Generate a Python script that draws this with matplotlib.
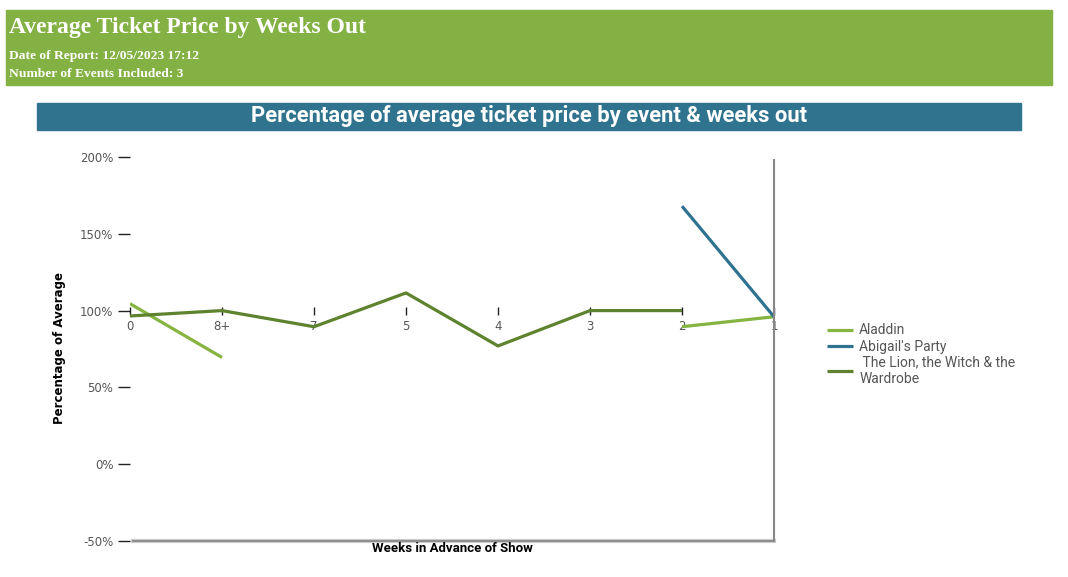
import numpy as np
import matplotlib.pyplot as plt
from matplotlib.patches import Rectangle

# categories along the x axis (weeks out)
weeks = ['0', '8+', '7', '5', '4', '3', '2', '1']

# percentage of average ticket price per event (nan = no data)
nan = np.nan
aladdin = [104.5, 69.5, nan, nan, nan, nan, 89.5, 96.0]
abigail = [nan, nan, nan, nan, nan, nan, 168.0, 96.0]
lion = [96.5, 100.0, 89.5, 111.5, 77.0, 100.0, 100.0, nan]

series_names = ['Aladdin', "Abigail's Party", ' The Lion, the Witch & the\nWardrobe']
series_colors = ['#86b441', '#2e7290', '#5e822e']

yticks = [-50, 0, 50, 100, 150, 200]

W, H = 1068, 577
fig = plt.figure(figsize=(W / 100, H / 100), dpi=100)

# header band
fig.patches.append(Rectangle((6 / W, 1 - 85 / H), 1046 / W, 75 / H,
                             transform=fig.transFigure, color='#84b143', zorder=0))
fig.text(9 / W, 1 - 28 / H, 'Average Ticket Price by Weeks Out', color='white',
         family='Liberation Serif', weight='bold', fontsize=17, va='center')
fig.text(9 / W, 1 - 56 / H, 'Date of Report: 12/05/2023 17:12', color='white',
         family='Liberation Serif', weight='bold', fontsize=9.7, va='center')
fig.text(9 / W, 1 - 74 / H, 'Number of Events Included: 3', color='white',
         family='Liberation Serif', weight='bold', fontsize=9.7, va='center')

# chart title band
fig.patches.append(Rectangle((37 / W, 1 - 130 / H), 984 / W, 27 / H,
                             transform=fig.transFigure, color='#2f738f', zorder=0))
fig.text(529 / W, 1 - 116 / H, 'Percentage of average ticket price by event & weeks out',
         color='white', family='Roboto', weight='bold', fontsize=15.8,
         ha='center', va='center')

# plot area: x 130..774 px, y 157..541 px
ax = fig.add_axes([130 / W, 1 - 541 / H, 644 / W, 384 / H])
x = np.arange(len(weeks))
for vals, name, col in zip([aladdin, abigail, lion], series_names, series_colors):
    ax.plot(x, vals, color=col, lw=2.3, label=name, solid_capstyle='butt')

ax.set_xlim(0, len(weeks) - 1)
ax.set_ylim(-50, 200)

ax.spines['top'].set_visible(False)
ax.spines['left'].set_visible(False)
ax.spines['right'].set_color('#888888')
ax.spines['right'].set_linewidth(1.5)
ax.spines['right'].set_bounds(-50, 198)
ax.spines['bottom'].set_position(('data', 100))
ax.spines['bottom'].set_visible(False)

# bottom line with soft shadow
ax.axhline(-50, xmin=0.005, color='#cccccc', lw=3, clip_on=False, zorder=1)
ax.axhline(-50, xmin=0.005, color='#888888', lw=1.3, clip_on=False, zorder=2)

ax.set_yticks(yticks)
ax.set_yticklabels([f'{v}%' for v in yticks])
ax.tick_params(axis='y', length=9, width=1, color='#222222', pad=3,
               labelsize=8.5, labelcolor='#555555')
ax.set_xticks(x)
ax.set_xticklabels(weeks)
ax.tick_params(axis='x', direction='inout', length=6, width=1, color='#222222',
               pad=4, labelsize=8.5, labelcolor='#555555')
for lab in ax.get_xticklabels() + ax.get_yticklabels():
    lab.set_family('DejaVu Sans')

fig.text(60 / W, 1 - 348 / H, 'Percentage of Average', rotation=90, family='DejaVu Sans',
         weight='bold', fontsize=8.5, ha='center', va='center')
fig.text(452 / W, 1 - 549 / H, 'Weeks in Advance of Show', family='Roboto',
         weight='bold', fontsize=9.5, ha='center', va='center')

leg = fig.legend(loc='upper left', bbox_to_anchor=(814 / W, 1 - 311 / H),
                 frameon=False, handlelength=1.9, handletextpad=0.45,
                 labelspacing=0.15, prop={'family': 'Roboto', 'size': 10})
for t in leg.get_texts():
    t.set_color('#555555')

fig.savefig('out.png', dpi=100)
